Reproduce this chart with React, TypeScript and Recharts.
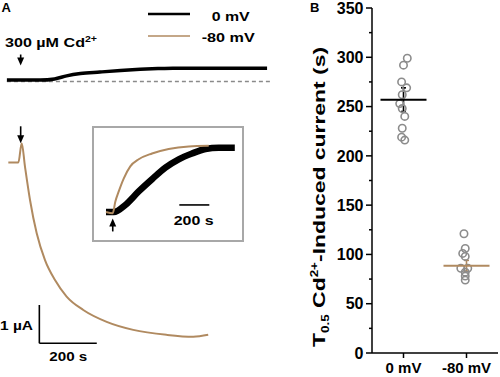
import {
  LineChart,
  Line,
  XAxis,
  YAxis,
  ReferenceLine,
  ReferenceDot,
  ComposedChart,
  Scatter,
  ErrorBar,
} from "recharts";

// Panel A main traces: time (s, 0 = Cd2+ application) vs current (uA, traces stacked)
const mainTime0mV = [-46, 0, 70, 120, 162, 210, 278, 350, 418, 480, 532, 700, 860];
const mainCurrent0mV = [6.87, 6.87, 6.87, 6.9, 6.98, 7.04, 7.08, 7.12, 7.15, 7.17, 7.18, 7.18, 7.18];
const mainTime80mV = [-41, -6, 5.6, 17, 34.5, 57.8, 86.7, 121.5, 162, 220, 301.5, 394, 510, 603, 655];
const mainCurrent80mV = [4.72, 4.72, 5.22, 4.61, 3.74, 2.87, 2.17, 1.65, 1.22, 0.87, 0.56, 0.35, 0.22, 0.17, 0.22];
const baselineLevel = 6.83;
const baselineSpan = [-46, 870];

// inset: normalised current
const insetTime0mV = [-45, 7, 84, 173, 262, 351, 440, 529, 618, 707, 814];
const insetNorm0mV = [0, 0, 0.11, 0.32, 0.51, 0.69, 0.82, 0.91, 0.98, 1.0, 1.0];
const insetTime80mV = [-45, 0, 17, 40, 73, 117, 173, 262, 373, 507, 640];
const insetNorm80mV = [0, -0.02, 0.16, 0.32, 0.52, 0.71, 0.82, 0.91, 0.98, 1.02, 1.03];

// Panel B: T0.5 (s)
const groups = ["0 mV", "-80 mV"];
const t50_0mV = [299, 292, 275, 269, 262, 253, 248, 240, 228, 219, 216];
const jitter0mV = [0.06, 0, -0.03, 0.05, -0.02, -0.06, -0.02, 0.02, -0.02, -0.03, 0.02];
const t50_80mV = [121, 106, 101, 98, 86, 86, 82, 78, 74];
const jitter80mV = [-0.04, -0.02, -0.06, -0.02, -0.09, 0.02, -0.02, -0.02, -0.02];
const groupMeans = [257, 88.5];
const groupSem = [12, 5.5];
const yTicks = [0, 25, 50, 75, 100, 125, 150, 175, 200, 225, 250, 275, 300, 325, 350];

const BROWN = "#b08a60";
const FONT = "'Liberation Sans', Arial, sans-serif";

const zip = (t: number[], v: number[]) => t.map((x, i) => ({ t: x, v: v[i] }));
const pts = (vals: number[], jit: number[], g: number) =>
  vals.map((y, i) => ({ x: g + jit[i], y }));

// arrow whose tip sits on the reference point
const ArrowShape = (props: any, dir: "down" | "up", len: number) => {
  const { cx, cy } = props;
  const s = dir === "down" ? 1 : -1;
  return (
    <g>
      <line x1={cx} x2={cx} y1={cy - s * len} y2={cy - s * 6} stroke="#000" strokeWidth={1.6} />
      <path d={`M${cx},${cy} L${cx - 3.5},${cy - s * 8} L${cx + 3.5},${cy - s * 8} Z`} fill="#000" />
    </g>
  );
};

const Circle = (p: any) => (
  <circle cx={p.cx} cy={p.cy} r={3.7} fill="none" stroke="#8c8c8c" strokeWidth={1.6} />
);

const meanShape = (color: string) => (p: any) => (
  <line x1={p.cx - 23} x2={p.cx + 23} y1={p.cy} y2={p.cy} stroke={color} strokeWidth={2} />
);

const YTick = ({ x, y, payload }: any) => {
  const major = payload.value % 50 === 0;
  return (
    <g>
      <line x1={x - (major ? 6 : 3)} x2={x} y1={y} y2={y} stroke="#000" strokeWidth={1.5} />
      {major && (
        <text x={x - 8.5} y={y + 5.7} textAnchor="end" fontSize={16} fontWeight="bold" fontFamily={FONT} fill="#000">
          {payload.value}
        </text>
      )}
    </g>
  );
};

const XTick = ({ x, y, payload }: any) => (
  <text x={x} y={y + 13} textAnchor="middle" fontSize={15} fontWeight="bold" fontFamily={FONT} fill="#000">
    {groups[payload.value - 1]}
  </text>
);

export default function App() {
  return (
    <div style={{ position: "absolute", left: 0, top: 0, width: 500, height: 377, background: "#fff", overflow: "hidden" }}>
      {/* Panel A main traces */}
      <div style={{ position: "absolute", left: 0, top: 0 }}>
        <LineChart width={280} height={377} margin={{ top: 0, right: 0, bottom: 0, left: 0 }}>
          <XAxis type="number" dataKey="t" domain={[-70, 905]} hide allowDataOverflow />
          <YAxis type="number" dataKey="v" domain={[-0.88, 8.96]} hide allowDataOverflow />
          <ReferenceLine
            segment={[{ x: baselineSpan[0], y: baselineLevel }, { x: baselineSpan[1], y: baselineLevel }]}
            stroke="#8a8a8a"
            strokeWidth={1.5}
            strokeDasharray="4 3"
          />
          <Line data={zip(mainTime0mV, mainCurrent0mV)} dataKey="v" type="monotone" stroke="#000" strokeWidth={3.5} dot={false} activeDot={false} legendType="none" isAnimationActive={false} />
          <Line data={zip(mainTime80mV, mainCurrent80mV)} dataKey="v" type="monotone" stroke={BROWN} strokeWidth={2} dot={false} activeDot={false} legendType="none" isAnimationActive={false} />
          <ReferenceDot x={2} y={7.25} r={0} shape={(p: any) => ArrowShape(p, "down", 11)} />
          <ReferenceDot x={2} y={5.22} r={0} shape={(p: any) => ArrowShape(p, "down", 17)} />
          {/* scale bars: 1 uA, 200 s */}
          <ReferenceLine segment={[{ x: 67, y: 0 }, { x: 67, y: 1 }]} stroke="#000" strokeWidth={1.6} />
          <ReferenceLine segment={[{ x: 67, y: 0 }, { x: 267, y: 0 }]} stroke="#000" strokeWidth={1.6} />
        </LineChart>
      </div>

      {/* inset */}
      <div style={{ position: "absolute", left: 92, top: 126, width: 148, height: 112, border: "2px solid #a8a8a8", background: "#fff" }}>
        <LineChart width={148} height={112} margin={{ top: 0, right: 0, bottom: 0, left: 0 }}>
          <XAxis type="number" dataKey="t" domain={[-125, 862]} hide allowDataOverflow />
          <YAxis type="number" dataKey="v" domain={[-0.435, 1.306]} hide allowDataOverflow />
          <Line data={zip(insetTime0mV, insetNorm0mV)} dataKey="v" type="monotone" stroke="#000" strokeWidth={6.5} dot={false} activeDot={false} legendType="none" isAnimationActive={false} />
          <Line data={zip(insetTime80mV, insetNorm80mV)} dataKey="v" type="monotone" stroke={BROWN} strokeWidth={2} dot={false} activeDot={false} legendType="none" isAnimationActive={false} />
          <ReferenceDot x={0} y={-0.1} r={0} shape={(p: any) => ArrowShape(p, "up", 13)} />
          <ReferenceLine segment={[{ x: 444, y: 0.11 }, { x: 644, y: 0.11 }]} stroke="#000" strokeWidth={1.6} />
        </LineChart>
      </div>

      {/* Panel B */}
      <div style={{ position: "absolute", left: 310, top: 0 }}>
        <ComposedChart width={190} height={377} margin={{ top: 8, right: 2, bottom: 0, left: 0 }}>
          <XAxis
            type="number"
            dataKey="x"
            domain={[0.5, 2.5]}
            ticks={[1, 2]}
            height={24}
            tickSize={5}
            tick={<XTick />}
            axisLine={{ stroke: "#000", strokeWidth: 1.5 }}
            tickLine={{ stroke: "#000", strokeWidth: 1.5 }}
          />
          <YAxis
            type="number"
            dataKey="y"
            domain={[0, 350]}
            ticks={yTicks}
            width={62}
            tickSize={0}
            tickMargin={0}
            tickLine={false}
            tick={<YTick />}
            axisLine={{ stroke: "#000", strokeWidth: 1.5 }}
            interval={0}
          />
          <Scatter data={pts(t50_0mV, jitter0mV, 1)} shape={Circle} isAnimationActive={false} />
          <Scatter data={pts(t50_80mV, jitter80mV, 2)} shape={Circle} isAnimationActive={false} />
          <Scatter data={[{ x: 1, y: groupMeans[0], sem: groupSem[0] }]} shape={meanShape("#000")} isAnimationActive={false}>
            <ErrorBar dataKey="sem" direction="y" width={2.5} stroke="#000" strokeWidth={1.6} isAnimationActive={false} />
          </Scatter>
          <Scatter data={[{ x: 2, y: groupMeans[1], sem: groupSem[1] }]} shape={meanShape(BROWN)} isAnimationActive={false}>
            <ErrorBar dataKey="sem" direction="y" width={2.5} stroke={BROWN} strokeWidth={1.6} isAnimationActive={false} />
          </Scatter>
        </ComposedChart>
      </div>

      {/* labels */}
      <svg width={500} height={377} style={{ position: "absolute", left: 0, top: 0, pointerEvents: "none" }} fontFamily={FONT} fontWeight="bold" fill="#000">
        <text x={1.5} y={12} fontSize={13}>A</text>
        <text x={310} y={11.5} fontSize={13}>B</text>
        <line x1={148} x2={190} y1={14} y2={14} stroke="#000" strokeWidth={2.5} />
        <line x1={148} x2={190} y1={36} y2={36} stroke={BROWN} strokeWidth={1.5} />
        <text x={211.7} y={20.5} fontSize={13} textLength={38} lengthAdjust="spacingAndGlyphs">0 mV</text>
        <text x={201.7} y={42.3} fontSize={13} textLength={53} lengthAdjust="spacingAndGlyphs">-80 mV</text>
        <text x={5} y={46.7} fontSize={13} textLength={92} lengthAdjust="spacingAndGlyphs">
          300 µM Cd<tspan fontSize={8.5} dy={-5}>2+</tspan>
        </text>
        <text x={0} y={330} fontSize={13} textLength={33} lengthAdjust="spacingAndGlyphs">1 µA</text>
        <text x={49.3} y={361} fontSize={13} textLength={38} lengthAdjust="spacingAndGlyphs">200 s</text>
        <text x={173.7} y={225} fontSize={13.5} textLength={40} lengthAdjust="spacingAndGlyphs">200 s</text>
        <text transform="translate(325,197) rotate(-90)" textAnchor="middle" fontSize={17} textLength={300} lengthAdjust="spacingAndGlyphs">
          T<tspan fontSize={10} dy={4}>0.5</tspan>
          <tspan dy={-4}> Cd</tspan>
          <tspan fontSize={10} dy={-7}>2+</tspan>
          <tspan dy={7}>-Induced current (s)</tspan>
        </text>
      </svg>
    </div>
  );
}
